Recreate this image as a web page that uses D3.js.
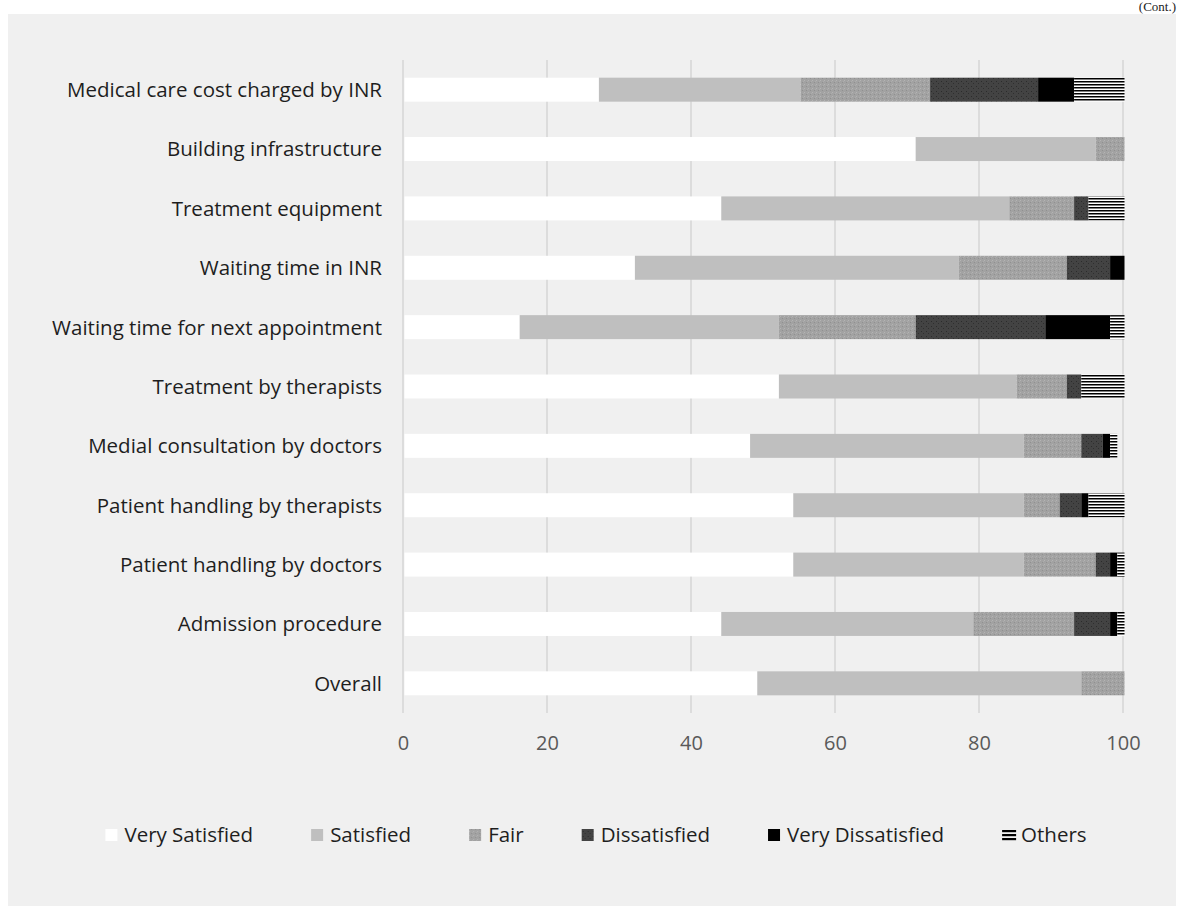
<!DOCTYPE html>
<html>
<head>
<meta charset="utf-8">
<script src="https://cdn.jsdelivr.net/npm/d3@7/dist/d3.min.js"></script>
<style>
  html, body { margin: 0; padding: 0; background: #ffffff; }
  svg { display: block; }
</style>
</head>
<body>
<svg id="chart" width="1182" height="906"></svg>
<script>
// Satisfaction items, top to bottom
const categories = [
  "Medical care cost charged by INR",
  "Building infrastructure",
  "Treatment equipment",
  "Waiting time in INR",
  "Waiting time for next appointment",
  "Treatment by therapists",
  "Medial consultation by doctors",
  "Patient handling by therapists",
  "Patient handling by doctors",
  "Admission procedure",
  "Overall"
];

// Response levels (stack order, left to right)
const seriesNames = ["Very Satisfied", "Satisfied", "Fair", "Dissatisfied", "Very Dissatisfied", "Others"];

// Percentages per item, one array per response level
const verySatisfied    = [27, 71, 44, 32, 16, 52, 48, 54, 54, 44, 49];
const satisfied        = [28, 25, 40, 45, 36, 33, 38, 32, 32, 35, 45];
const fair             = [18,  4,  9, 15, 19,  7,  8,  5, 10, 14,  6];
const dissatisfied     = [15,  0,  2,  6, 18,  2,  3,  3,  2,  5,  0];
const veryDissatisfied = [ 5,  0,  0,  2,  9,  0,  1,  1,  1,  1,  0];
const others           = [ 7,  0,  5,  0,  2,  6,  1,  5,  1,  1,  0];

const xTicks = [0, 20, 40, 60, 80, 100];

const rows = categories.map((c, i) => ({
  item: c,
  "Very Satisfied": verySatisfied[i],
  "Satisfied": satisfied[i],
  "Fair": fair[i],
  "Dissatisfied": dissatisfied[i],
  "Very Dissatisfied": veryDissatisfied[i],
  "Others": others[i]
}));

const svg = d3.select("#chart");
const FONT = "'Open Sans', 'Noto Sans', sans-serif";
const FS = 20.5;

// ---- patterns ----
const defs = svg.append("defs");

// speckled mid grey
const pFair = defs.append("pattern").attr("id", "pFair")
  .attr("patternUnits", "userSpaceOnUse").attr("width", 4).attr("height", 4);
pFair.append("rect").attr("width", 4).attr("height", 4).attr("fill", "#a2a2a2");
pFair.append("rect").attr("x", 0).attr("y", 0).attr("width", 1).attr("height", 1).attr("fill", "#b4b4b4");
pFair.append("rect").attr("x", 2).attr("y", 2).attr("width", 1).attr("height", 1).attr("fill", "#909090");
pFair.append("rect").attr("x", 3).attr("y", 1).attr("width", 1).attr("height", 1).attr("fill", "#acacac");

// dotted dark grey
const pDis = defs.append("pattern").attr("id", "pDis")
  .attr("patternUnits", "userSpaceOnUse").attr("width", 5).attr("height", 5);
pDis.append("rect").attr("width", 5).attr("height", 5).attr("fill", "#434343");
pDis.append("rect").attr("x", 1).attr("y", 1).attr("width", 1).attr("height", 1).attr("fill", "#2b2b2b");
pDis.append("rect").attr("x", 3).attr("y", 3).attr("width", 1).attr("height", 1).attr("fill", "#2f2f2f");

// horizontal black/white stripes
const pOth = defs.append("pattern").attr("id", "pOth")
  .attr("patternUnits", "userSpaceOnUse").attr("width", 6).attr("height", 3);
pOth.append("rect").attr("width", 6).attr("height", 3).attr("fill", "#ffffff");
pOth.append("rect").attr("y", 0).attr("width", 6).attr("height", 1.5).attr("fill", "#000000");

const fills = {
  "Very Satisfied": "#ffffff",
  "Satisfied": "#bfbfbf",
  "Fair": "url(#pFair)",
  "Dissatisfied": "url(#pDis)",
  "Very Dissatisfied": "#000000",
  "Others": "url(#pOth)"
};

// ---- background panel ----
svg.append("rect").attr("x", 8).attr("y", 14).attr("width", 1168).attr("height", 892)
  .attr("fill", "#f0f0f0");

// continuation note at the top edge
svg.append("text").attr("x", 1176).attr("y", 11)
  .attr("text-anchor", "end")
  .attr("font-family", "'Liberation Serif', serif").attr("font-size", 13)
  .attr("fill", "#222").text("(Cont.)");

// ---- scales ----
const x = d3.scaleLinear().domain([0, 100]).range([403, 1123]);
const y = d3.scaleBand().domain(categories).range([60, 713]).paddingInner(0.596).paddingOuter(0.298);

// gridlines
const grid = svg.append("g");
grid.selectAll("line").data(xTicks).join("line")
  .attr("x1", d => x(d)).attr("x2", d => x(d))
  .attr("y1", 60).attr("y2", 713)
  .attr("stroke", "#d6d6d6").attr("stroke-width", 1.5);

// stacked bars
const stack = d3.stack().keys(seriesNames);
const layers = stack(rows);

svg.append("g").selectAll("g").data(layers).join("g")
  .attr("fill", d => fills[d.key])
  .selectAll("rect").data(d => d).join("rect")
  .attr("x", d => x(d[0]) + 1.5)
  .attr("y", d => y(d.data.item))
  .attr("width", d => Math.max(0, x(d[1]) - x(d[0])))
  .attr("height", y.bandwidth());

// category labels
svg.append("g").selectAll("text").data(categories).join("text")
  .attr("x", 382)
  .attr("y", d => y(d) + y.bandwidth() / 2)
  .attr("dy", "0.36em")
  .attr("text-anchor", "end")
  .attr("font-family", FONT).attr("font-size", FS)
  .attr("fill", "#1e1e1e")
  .text(d => d);

// x axis labels
const xAxis = d3.axisBottom(x).tickValues(xTicks).tickSize(0).tickPadding(0);
const gx = svg.append("g").attr("transform", "translate(0,736)").call(xAxis);
gx.select(".domain").remove();
gx.selectAll("text")
  .attr("font-family", FONT).attr("font-size", 20)
  .attr("fill", "#595959").attr("dy", "0.71em");

// ---- legend ----
const legend = svg.append("g");
const items = legend.selectAll("g").data(seriesNames).join("g");
items.append("text")
  .attr("x", 19).attr("y", 0).attr("dy", "0.36em")
  .attr("font-family", FONT).attr("font-size", FS)
  .attr("fill", "#1e1e1e")
  .text(d => d);
items.each(function(d) {
  const g = d3.select(this);
  if (d === "Others") {
    [0, 4, 8].forEach(o => g.append("rect").attr("x", 0).attr("y", -5 + o)
      .attr("width", 14).attr("height", 2.2).attr("fill", "#000"));
  } else {
    g.append("rect").attr("x", 0).attr("y", -6).attr("width", 12).attr("height", 12)
      .attr("fill", fills[d]);
  }
});
// lay items out in one centered row
const gap = 58;
const widths = [];
items.each(function() { widths.push(19 + d3.select(this).select("text").node().getComputedTextLength()); });
const total = d3.sum(widths) + gap * (widths.length - 1);
let cx = 596 - total / 2;
items.attr("transform", (d, i) => {
  const t = `translate(${cx},835)`;
  cx += widths[i] + gap;
  return t;
});
</script>
</body>
</html>
